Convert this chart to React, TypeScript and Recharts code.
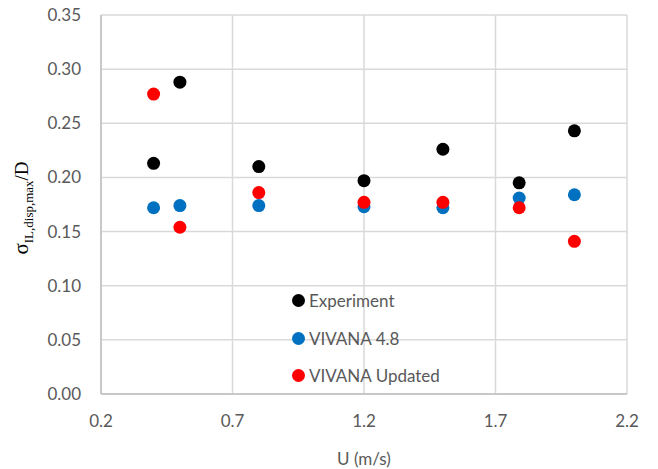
import { ScatterChart, Scatter, XAxis, YAxis, CartesianGrid } from 'recharts'

const speeds = [0.4, 0.5, 0.8, 1.2, 1.5, 1.79, 2.0]
const experiment = [0.213, 0.288, 0.21, 0.197, 0.226, 0.195, 0.243]
const vivana48 = [0.172, 0.174, 0.174, 0.173, 0.172, 0.181, 0.184]
const vivanaUpdated = [0.277, 0.154, 0.186, 0.177, 0.177, 0.172, 0.141]

const xTicks = [0.2, 0.7, 1.2, 1.7, 2.2]
const yTicks = [0, 0.05, 0.1, 0.15, 0.2, 0.25, 0.3, 0.35]

const series = [
  { name: 'Experiment', values: experiment, color: '#000000' },
  { name: 'VIVANA 4.8', values: vivana48, color: '#0070C0' },
  { name: 'VIVANA Updated', values: vivanaUpdated, color: '#FF0000' },
]

const font = 'Lato, "Open Sans", sans-serif'

const Dot = (props: any) => (
  <circle cx={props.cx} cy={props.cy} r={6.5} fill={props.fill} />
)

const YLabel = () => (
  <text
    transform="translate(28, 208) rotate(-90)"
    textAnchor="middle"
    fill="#000"
    fontFamily='"Liberation Serif", "DejaVu Serif", serif'
  >
    <tspan fontSize={21}>σ</tspan>
    <tspan fontSize={13} dy={5}>IL,disp,max</tspan>
    <tspan fontSize={19} dy={-5}>/D</tspan>
  </text>
)

export default function App() {
  return (
    <div style={{ position: 'absolute', left: 0, top: 0, width: 658, height: 469, background: '#fff' }}>
      <ScatterChart width={658} height={469} margin={{ top: 15, right: 31, left: 0, bottom: 0 }}>
        <CartesianGrid stroke="#d9d9d9" strokeWidth={1.5} />
        <XAxis
          type="number"
          dataKey="x"
          domain={[0.2, 2.2]}
          ticks={xTicks}
          tickFormatter={(v: number) => v.toFixed(1)}
          height={75}
          tickSize={0}
          tickMargin={21}
          axisLine={{ stroke: '#bfbfbf', strokeWidth: 1.5 }}
          tick={{ fill: '#595959', fontSize: 17, fontFamily: font }}
          label={{
            value: 'U (m/s)',
            position: 'insideBottom',
            offset: 4,
            fill: '#595959',
            fontSize: 17,
            fontFamily: font,
          }}
        />
        <YAxis
          type="number"
          dataKey="y"
          domain={[0, 0.35]}
          ticks={yTicks}
          tickFormatter={(v: number) => v.toFixed(2)}
          width={101}
          tickSize={0}
          tickMargin={20}
          axisLine={{ stroke: '#bfbfbf', strokeWidth: 1.5 }}
          tick={{ fill: '#595959', fontSize: 17, fontFamily: font }}
          label={<YLabel />}
        />
        {series.map((s) => (
          <Scatter
            key={s.name}
            name={s.name}
            data={speeds.map((x, i) => ({ x, y: s.values[i] }))}
            fill={s.color}
            shape={<Dot />}
            isAnimationActive={false}
          />
        ))}
      </ScatterChart>
      {/* legend sits inside the plot area */}
      <div
        style={{
          position: 'absolute',
          left: 292,
          top: 282,
          fontFamily: font,
          fontSize: 17,
          color: '#595959',
        }}
      >
        {series.map((s) => (
          <div key={s.name} style={{ display: 'flex', alignItems: 'center', height: 37.5 }}>
            <span
              style={{
                width: 13,
                height: 13,
                borderRadius: '50%',
                background: s.color,
                marginRight: 4,
                display: 'inline-block',
              }}
            />
            {s.name}
          </div>
        ))}
      </div>
    </div>
  )
}
